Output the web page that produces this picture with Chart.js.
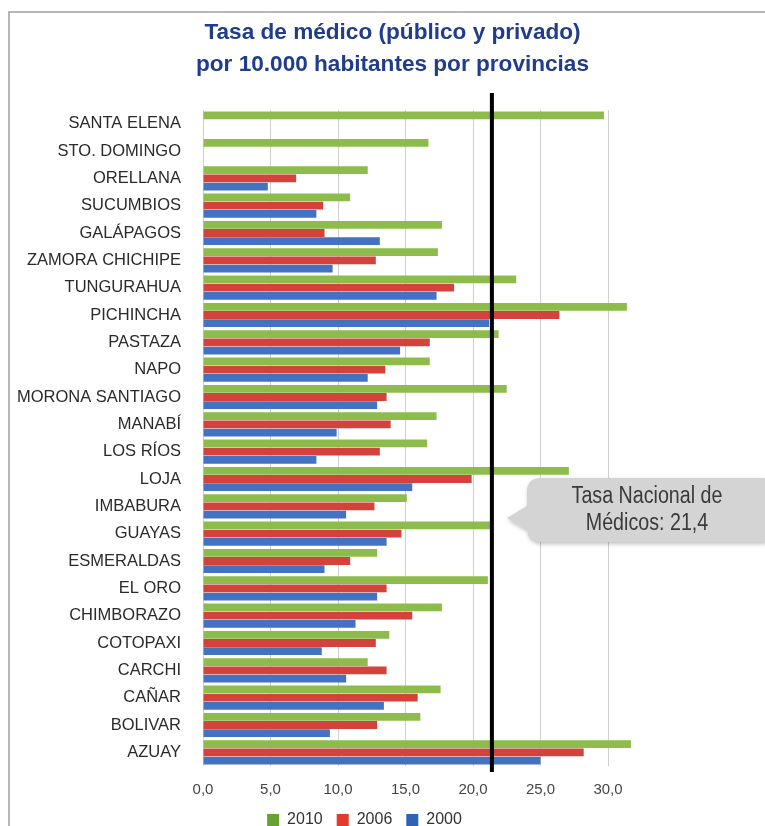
<!DOCTYPE html>
<html>
<head>
<meta charset="utf-8">
<script src="https://cdn.jsdelivr.net/npm/chart.js@4/dist/chart.umd.min.js"></script>
<style>
html,body{margin:0;padding:0;background:#fff;}
#wrap{position:relative;width:765px;height:826px;}
</style>
</head>
<body>
<div id="wrap"><canvas id="c" width="765" height="826"></canvas></div>
<script>
const categories = ['SANTA ELENA','STO. DOMINGO','ORELLANA','SUCUMBIOS','GALÁPAGOS','ZAMORA CHICHIPE','TUNGURAHUA','PICHINCHA','PASTAZA','NAPO','MORONA SANTIAGO','MANABÍ','LOS RÍOS','LOJA','IMBABURA','GUAYAS','ESMERALDAS','EL ORO','CHIMBORAZO','COTOPAXI','CARCHI','CAÑAR','BOLIVAR','AZUAY'];
const v2010 = [29.7,16.7,12.2,10.9,17.7,17.4,23.2,31.4,21.9,16.8,22.5,17.3,16.6,27.1,15.1,21.3,12.9,21.1,17.7,13.8,12.2,17.6,16.1,31.7];
const v2006 = [null,null,6.9,8.9,9.0,12.8,18.6,26.4,16.8,13.5,13.6,13.9,13.1,19.9,12.7,14.7,10.9,13.6,15.5,12.8,13.6,15.9,12.9,28.2];
const v2000 = [null,null,4.8,8.4,13.1,9.6,17.3,21.2,14.6,12.2,12.9,9.9,8.4,15.5,10.6,13.6,9.0,12.9,11.3,8.8,10.6,13.4,9.4,25.0];
const seriesLabels = ['2010','2006','2000'];
const xTicks = [0,5,10,15,20,25,30];
const nationalRate = 21.4;
const titleLines = ['Tasa de médico (público y privado)','por 10.000 habitantes por provincias'];
const calloutLines = ['Tasa Nacional de','Médicos: 21,4'];

const barColors = ['#8dbb4c','#d4423c','#4472c2'];
const legendColors = ['#66a233','#e23a2c','#2f63b8'];

const frame = {
  id:'frame',
  beforeDraw(chart){
    const ctx = chart.ctx;
    ctx.save();
    ctx.strokeStyle = '#a0a0a0';
    ctx.lineWidth = 1.5;
    ctx.beginPath();
    ctx.moveTo(9, 826); ctx.lineTo(9, 12); ctx.lineTo(765, 12);
    ctx.stroke();
    ctx.restore();
  }
};

const boxPlace = {
  id:'boxPlace',
  afterLayout(chart){
    const lg = chart.legend;
    if (lg) {
      lg.top = 798; lg.bottom = 840; lg.height = 42;
      lg.left += 47; lg.right += 47;
    }
    const tb = chart.titleBlock;
    if (tb) { tb.left += 75; tb.right += 75; }
  }
};

const natLine = {
  id:'natLine',
  afterDatasetsDraw(chart){
    const ctx = chart.ctx, xs = chart.scales.x, a = chart.chartArea;
    const x = xs.getPixelForValue(nationalRate);
    ctx.save();
    ctx.strokeStyle = '#000';
    ctx.lineWidth = 4;
    ctx.beginPath();
    ctx.moveTo(x, a.top - 17); ctx.lineTo(x, a.bottom + 6);
    ctx.stroke();
    // callout
    const left = x + 35, right = 775, top = 478, bottom = 542, r = 14;
    ctx.shadowColor = 'rgba(0,0,0,0.25)';
    ctx.shadowBlur = 4; ctx.shadowOffsetX = 1; ctx.shadowOffsetY = 2;
    ctx.fillStyle = '#d4d4d4';
    ctx.beginPath();
    ctx.moveTo(left + r, top);
    ctx.lineTo(right - r, top);
    ctx.quadraticCurveTo(right, top, right, top + r);
    ctx.lineTo(right, bottom - r);
    ctx.quadraticCurveTo(right, bottom, right - r, bottom);
    ctx.lineTo(left + r, bottom);
    ctx.quadraticCurveTo(left, bottom, left, bottom - r);
    ctx.lineTo(left, 530);
    ctx.lineTo(x + 15, 518);
    ctx.lineTo(left, 506);
    ctx.lineTo(left, top + r);
    ctx.quadraticCurveTo(left, top, left + r, top);
    ctx.closePath();
    ctx.fill();
    ctx.shadowColor = 'transparent';
    ctx.fillStyle = '#3a3a3a';
    ctx.font = '23px "Liberation Sans", Arial, sans-serif';
    ctx.textAlign = 'center';
    ctx.textBaseline = 'middle';
    ctx.translate(647, 0);
    ctx.scale(0.855, 1);
    ctx.fillText(calloutLines[0], 0, 497);
    ctx.fillText(calloutLines[1], 0, 524);
    ctx.restore();
  }
};

new Chart(document.getElementById('c'), {
  type:'bar',
  data:{
    labels: categories,
    datasets:[
      {label:seriesLabels[0], data:v2010, backgroundColor:barColors[0]},
      {label:seriesLabels[1], data:v2006, backgroundColor:barColors[1]},
      {label:seriesLabels[2], data:v2000, backgroundColor:barColors[2]}
    ]
  },
  options:{
    indexAxis:'y',
    responsive:false,
    animation:false,
    devicePixelRatio:1,
    datasets:{bar:{categoryPercentage:0.9, barPercentage:0.95, skipNull:false}},
    layout:{padding:{left:0, right:130, top:0, bottom:0}},
    plugins:{
      title:{display:true, text:titleLines, color:'#1f3d8c',
        font:{family:'"Liberation Sans", Arial, sans-serif', size:22.6, weight:'bold', lineHeight:1.416},
        padding:{top:17, bottom:29}},
      legend:{position:'bottom', align:'center', maxHeight:20,
        labels:{boxWidth:12, boxHeight:12, color:'#333', padding:14,
          font:{family:'"Liberation Sans", Arial, sans-serif', size:16},
          generateLabels(chart){
            const items = Chart.defaults.plugins.legend.labels.generateLabels(chart);
            items.forEach((it,i)=>{ it.fillStyle = legendColors[i]; it.strokeStyle = legendColors[i]; it.lineWidth = 0; });
            return items;
          }}},
      tooltip:{enabled:false}
    },
    scales:{
      x:{min:0, max:32,
        afterBuildTicks(s){ s.ticks = xTicks.map(v=>({value:v})); },
        afterFit(s){ s.height = 40; },
        grid:{color:'#cfcfcf', lineWidth:1, drawTicks:false},
        border:{display:false},
        ticks:{padding:15, color:'#444',
          font:{family:'"Liberation Sans", Arial, sans-serif', size:15},
          callback:(v)=>Number(v).toFixed(1).replace('.',',')}
      },
      y:{
        afterFit(s){ s.width = 203; },
        grid:{display:false, drawTicks:false},
        border:{display:false},
        ticks:{padding:22, color:'#2a2a2a', autoSkip:false,
          font:{family:'"Liberation Sans", Arial, sans-serif', size:16.5}}
      }
    }
  },
  plugins:[frame, boxPlace, natLine]
});
</script>
</body>
</html>
